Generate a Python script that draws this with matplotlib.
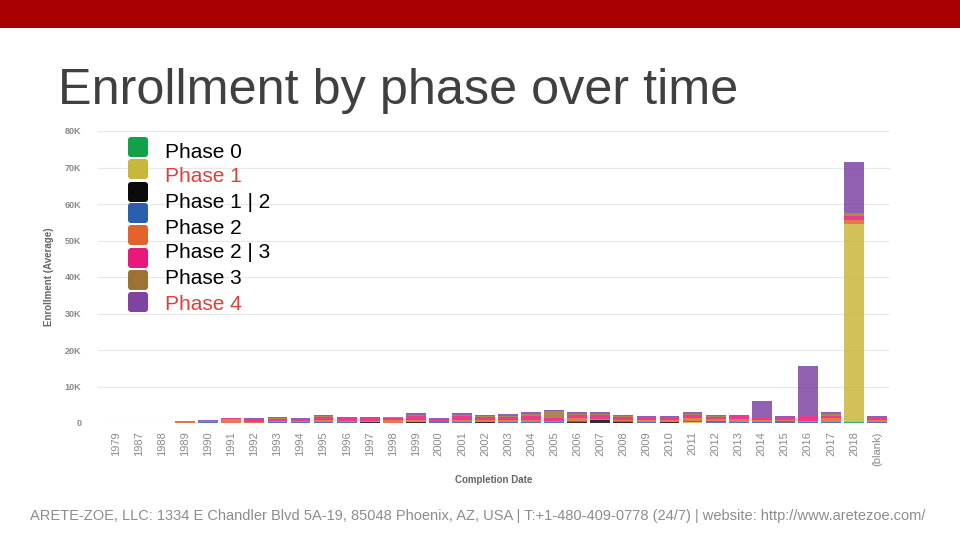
import matplotlib
matplotlib.use('Agg')
import matplotlib.pyplot as plt
from matplotlib.patches import Rectangle, FancyBboxPatch
import numpy as np

plt.rcParams['font.family'] = ['Liberation Sans', 'DejaVu Sans']

years = ['1979', '1987', '1988', '1989', '1990', '1991', '1992', '1993', '1994',
         '1995', '1996', '1997', '1998', '1999', '2000', '2001', '2002', '2003',
         '2004', '2005', '2006', '2007', '2008', '2009', '2010', '2011', '2012',
         '2013', '2014', '2015', '2016', '2017', '2018', '(blank)']

# average enrollment per phase (rough)
phase0 = [0, 0, 0, 0, 0, 0, 0, 0, 0, 0, 0, 0, 0, 0, 0, 0, 0, 0,
          0, 0, 0, 0, 0, 0, 0, 100, 0, 0, 0, 0, 0, 0, 300, 0]
phase1 = [0, 0, 0, 100, 0, 0, 0, 0, 0, 0, 0, 0, 0, 0, 0, 0, 0, 0,
          0, 0, 0, 0, 0, 100, 0, 100, 0, 0, 0, 0, 0, 0, 54200, 0]
phase1_2 = [0, 0, 0, 0, 0, 0, 0, 0, 0, 0, 0, 200, 0, 200, 0, 0, 150, 0,
            0, 0, 300, 700, 250, 0, 200, 0, 0, 0, 0, 0, 0, 0, 0, 0]
phase2 = [0, 0, 0, 0, 250, 0, 100, 200, 400, 200, 200, 200, 100, 200, 200, 400, 200, 200,
          200, 200, 200, 200, 200, 200, 200, 300, 600, 200, 300, 500, 200, 200, 100, 200]
phase2_3 = [0, 0, 0, 100, 50, 1000, 300, 300, 200, 500, 300, 200, 700, 400, 200, 400, 500, 500,
            700, 300, 800, 300, 500, 600, 500, 800, 400, 800, 400, 300, 300, 1200, 1000, 600]
phase3 = [0, 0, 0, 0, 100, 300, 700, 600, 600, 1000, 800, 700, 500, 1100, 700, 1000, 800, 900,
          1100, 1000, 900, 1000, 700, 700, 700, 1000, 600, 800, 600, 600, 1500, 600, 1200, 700]
phase3b = [0, 0, 0, 300, 50, 100, 100, 300, 0, 200, 100, 200, 300, 300, 100, 500, 300, 400,
           500, 1800, 400, 400, 200, 0, 0, 200, 200, 200, 0, 0, 0, 500, 700, 0]
phase4 = [0, 0, 0, 0, 250, 0, 200, 200, 200, 300, 200, 100, 0, 500, 200, 400, 250, 400,
          400, 200, 300, 300, 350, 300, 300, 500, 400, 200, 4700, 500, 13600, 500, 14000, 400]

series = [phase0, phase1, phase1_2, phase2, phase2_3, phase3, phase3b, phase4]
colors = ['#12a04b', '#c9b73c', '#0a0a0a', '#2a5fae', '#e3622c', '#e8197a', '#9e7233', '#7f44a2']
legend_labels = ['Phase 0', 'Phase 1', 'Phase 1 | 2', 'Phase 2', 'Phase 2 | 3', 'Phase 3', 'Phase 4']
legend_red = ['Phase 1', 'Phase 4']

fig = plt.figure(figsize=(9.6, 5.4), dpi=100)

ax = fig.add_axes([98 / 960, 117 / 540, 792 / 960, 292 / 540])
x = np.arange(len(years))
bottom = np.zeros(len(years))
for vals, c in zip(series, colors):
    ax.bar(x, vals, width=0.86, bottom=bottom, color=c, alpha=0.85, linewidth=0, zorder=3)
    bottom += np.array(vals)

ax.set_xlim(-0.78, 33.56)
ax.set_ylim(0, 80000)
ax.set_yticks(np.arange(0, 80001, 10000))
ax.set_yticklabels(['0'] + ['%dK' % k for k in range(10, 81, 10)])
ax.grid(axis='y', color='#e8e8e8', linewidth=0.8, zorder=0)
for s in ax.spines.values():
    s.set_visible(False)
ax.tick_params(axis='y', length=0, pad=12, labelsize=6.5, labelcolor='#888888')
ax.set_xticks(x)
ax.set_xticklabels(years, rotation=90, fontsize=8, color='#8a8a8a')
ax.tick_params(axis='x', length=0, pad=6)
for t in ax.get_yticklabels():
    t.set_fontweight('bold')
ax.set_xlabel('Completion Date', fontsize=7, fontweight='bold', color='#666666', labelpad=7)
ax.set_ylabel('Enrollment (Average)', fontsize=7, fontweight='bold', color='#666666', labelpad=8)

# overlay in pixel coordinates for slide decorations
ov = fig.add_axes([0, 0, 1, 1], zorder=10)
ov.set_xlim(0, 960)
ov.set_ylim(540, 0)
ov.axis('off')
ov.patch.set_alpha(0)

ov.add_patch(Rectangle((0, 0), 960, 28, facecolor='#a80000', edgecolor='none'))
ov.text(58, 104, 'Enrollment by phase over time', fontsize=36.3,
        color='#404040', ha='left', va='baseline')

# legend overlay as on the slide (8 swatches, 7 labels)
sw_y = [147, 169, 192, 213, 235, 258, 280, 302]
for yy, c in zip(sw_y, colors):
    ov.add_patch(FancyBboxPatch((138 - 7.5, yy - 7.5), 15, 15,
                                boxstyle='round,pad=2.5,rounding_size=3',
                                facecolor=c, edgecolor='none'))
lab_y = [152, 177, 202, 228, 253, 278, 304]
for yy, lab in zip(lab_y, legend_labels):
    col = '#d9413b' if lab in legend_red else '#000000'
    ov.text(165, yy, lab, fontsize=15, color=col, ha='left', va='center')

ov.text(30, 516,
        'ARETE-ZOE, LLC: 1334 E Chandler Blvd 5A-19, 85048 Phoenix, AZ, USA | '
        'T:+1-480-409-0778 (24/7) | website: http://www.aretezoe.com/',
        fontsize=10.55, color='#8c8c8c', ha='left', va='center')

fig.savefig('out.png', dpi=100)
